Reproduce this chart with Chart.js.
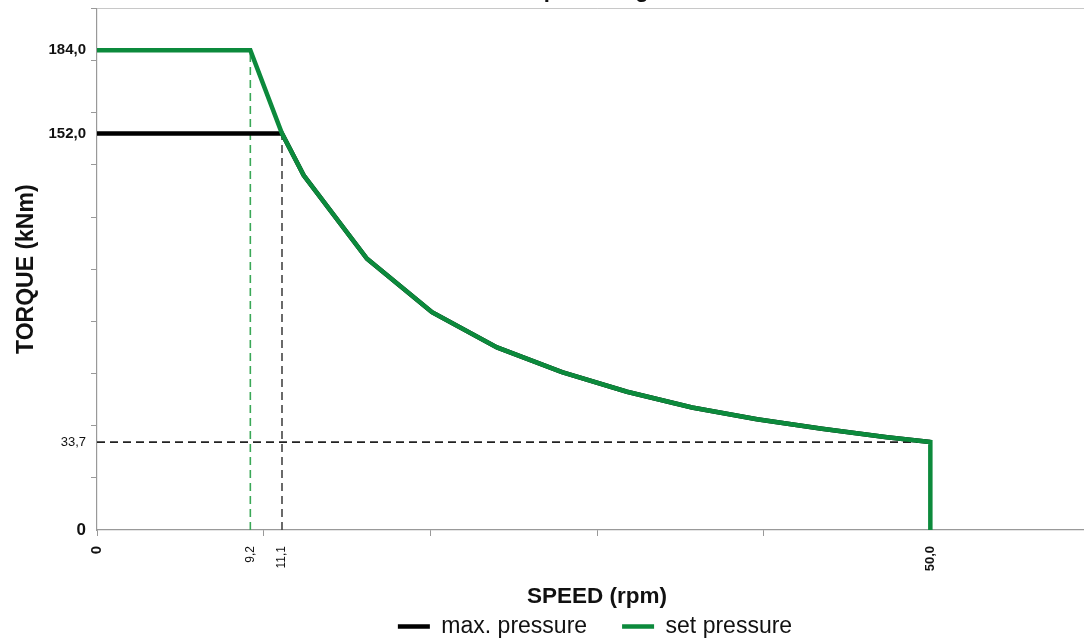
<!DOCTYPE html>
<html>
<head>
<meta charset="utf-8">
<title>Torque / speed</title>
<script src="https://cdn.jsdelivr.net/npm/chart.js@4.4.1/dist/chart.umd.min.js"></script>
<style>
  html, body { margin: 0; padding: 0; background: #fff; overflow: hidden; }
  /* the chart is a bit bigger than the window: title and right end are cut off like in the picture */
  #wrap { position: absolute; left: 0; top: -22px; width: 1190px; height: 670px; }
</style>
</head>
<body>
<div id="wrap"><canvas id="torqueChart"></canvas></div>
<script>
// values: speed in rpm, torque in kNm
const curveSpeed  = [9.2, 11.1, 12.4, 16.2, 20.1, 24.0, 27.9, 31.8, 35.7, 39.6, 43.5, 47.4, 50.0];
const curveTorque = [184.0, 152.0, 136.0, 104.0, 83.5, 70.0, 60.5, 53.0, 47.0, 42.5, 38.8, 35.6, 33.7];

const setPressureTorque = 184.0;
const maxPressureTorque = 152.0;
const setCornerSpeed = 9.2;
const maxCornerSpeed = 11.1;
const endSpeed = 50.0;
const endTorque = 33.7;

const speedMax = 60;
const torqueMax = 200;
const speedSteps = [0, 10, 20, 30, 40, 50, 60];
const torqueSteps = [0, 20, 40, 60, 80, 100, 120, 140, 160, 180, 200];
const speedLabels = [0, 9.2, 11.1, 50.0];
const torqueLabels = [0, 33.7, 152.0, 184.0];
const speedBold = [0, 50.0];
const torqueBold = [0, 152.0, 184.0];

const FONT = "'Liberation Sans', Arial, sans-serif";

const has = (list, v) => list.some((x) => Math.abs(x - v) < 1e-6);
const fmt = (v) => (v === 0 ? "0" : v.toFixed(1).replace(".", ","));
const tickList = (a, b) =>
  [...new Set([...a, ...b])].sort((p, q) => p - q).map((v) => ({ value: v }));

// curve points
const curve = curveSpeed.map((s, i) => ({ x: s, y: curveTorque[i] }));

const setPressureData = [{ x: 0, y: setPressureTorque }]
  .concat(curve)
  .concat([{ x: endSpeed, y: 0 }]);

const maxPressureData = [{ x: 0, y: maxPressureTorque }].concat(
  curve.filter((p) => p.x >= maxCornerSpeed)
);

document.addEventListener("DOMContentLoaded", () => {
  const ctx = document.getElementById("torqueChart").getContext("2d");

  window.torqueChart = new Chart(ctx, {
    type: "line",
    data: {
      datasets: [
        {
          label: "max. pressure",
          data: maxPressureData,
          borderColor: "#000000",
          backgroundColor: "#000000",
          borderWidth: 4.5,
          order: 1,
        },
        {
          label: "set pressure",
          data: setPressureData,
          borderColor: "#0c8a3c",
          backgroundColor: "#0c8a3c",
          borderWidth: 4.5,
          order: 0,
        },
        {
          label: "ref torque",
          data: [
            { x: 0, y: endTorque },
            { x: endSpeed, y: endTorque },
          ],
          borderColor: "#222222",
          borderWidth: 1.6,
          borderDash: [8, 5],
          order: 2,
        },
        {
          label: "ref set speed",
          data: [
            { x: setCornerSpeed, y: 0 },
            { x: setCornerSpeed, y: setPressureTorque },
          ],
          borderColor: "#3aa857",
          borderWidth: 1.6,
          borderDash: [8, 5],
          order: 2,
        },
        {
          label: "ref max speed",
          data: [
            { x: maxCornerSpeed, y: 0 },
            { x: maxCornerSpeed, y: maxPressureTorque },
          ],
          borderColor: "#444444",
          borderWidth: 1.6,
          borderDash: [8, 5],
          order: 2,
        },
      ],
    },
    options: {
      responsive: true,
      maintainAspectRatio: false,
      animation: false,
      layout: { padding: 0 },
      elements: {
        point: { radius: 0, hoverRadius: 0 },
        line: { tension: 0, fill: false },
      },
      plugins: {
        title: {
          display: true,
          text: "Speed range",
          color: "#111",
          font: { family: FONT, size: 22, weight: "bold" },
          padding: { top: 0, bottom: 4 },
        },
        tooltip: { enabled: false },
        legend: {
          position: "bottom",
          labels: {
            usePointStyle: true,
            pointStyle: "line",
            pointStyleWidth: 32,
            padding: 35,
            color: "#111",
            font: { family: FONT, size: 23 },
            filter: (item) => item.datasetIndex < 2,
            sort: (a, b) => a.datasetIndex - b.datasetIndex,
          },
        },
      },
      scales: {
        x: {
          type: "linear",
          min: 0,
          max: speedMax,
          border: { color: "#999", width: 1.2 },
          grid: {
            drawOnChartArea: false,
            tickLength: 6,
            tickColor: (c) => (has(speedLabels, c.tick.value) && c.tick.value !== 0 ? "rgba(0,0,0,0)" : "#999"),
          },
          afterBuildTicks: (scale) => {
            scale.ticks = tickList(speedSteps, speedLabels);
          },
          afterFit: (scale) => {
            scale.height = 50;
            scale.paddingLeft = 0;
            scale.paddingRight = 0;
          },
          ticks: {
            autoSkip: false,
            minRotation: 90,
            maxRotation: 90,
            padding: 10,
            color: "#111",
            callback: (v) => (has(speedLabels, v) ? fmt(v) : ""),
            font: (c) => {
              const v = c.tick ? c.tick.value : 1;
              if (v === 0) return { family: FONT, size: 15, weight: "bold" };
              if (has(speedBold, v)) return { family: FONT, size: 13, weight: "bold" };
              return { family: FONT, size: 12 };
            },
          },
          title: {
            display: true,
            text: "SPEED (rpm)",
            color: "#111",
            font: { family: FONT, size: 22.5, weight: "bold" },
            padding: { top: 0, bottom: -30 },
          },
        },
        y: {
          type: "linear",
          min: 0,
          max: torqueMax,
          border: { color: "#999", width: 1.2 },
          grid: {
            // only the top edge of the plot gets a line
            color: (c) => (c.tick && c.tick.value === torqueMax ? "#c8c8c8" : "rgba(0,0,0,0)"),
            tickLength: 6,
            tickColor: (c) => (has(torqueLabels, c.tick.value) ? "rgba(0,0,0,0)" : "#999"),
          },
          afterBuildTicks: (scale) => {
            scale.ticks = tickList(torqueSteps, torqueLabels);
          },
          afterFit: (scale) => {
            scale.width = 97;
            scale.paddingTop = 0;
            scale.paddingBottom = 0;
          },
          ticks: {
            autoSkip: false,
            padding: 5,
            color: "#111",
            callback: (v) => (has(torqueLabels, v) ? fmt(v) : ""),
            font: (c) => {
              const v = c.tick ? c.tick.value : 1;
              if (v === 0) return { family: FONT, size: 17, weight: "bold" };
              if (has(torqueBold, v)) return { family: FONT, size: 15, weight: "bold" };
              return { family: FONT, size: 13 };
            },
          },
          title: {
            display: true,
            text: "TORQUE (kNm)",
            color: "#111",
            font: { family: FONT, size: 23, weight: "bold" },
            padding: { top: 13, bottom: 0 },
          },
        },
        // empty strip on the right, off screen, so legend and title centre on the plot
        yRight: {
          position: "right",
          display: true,
          grid: { display: false },
          border: { display: false },
          ticks: { display: false },
          afterFit: (scale) => {
            scale.width = 93;
            scale.paddingTop = 0;
            scale.paddingBottom = 0;
          },
        },
      },
    },
  });
});
</script>
</body>
</html>
